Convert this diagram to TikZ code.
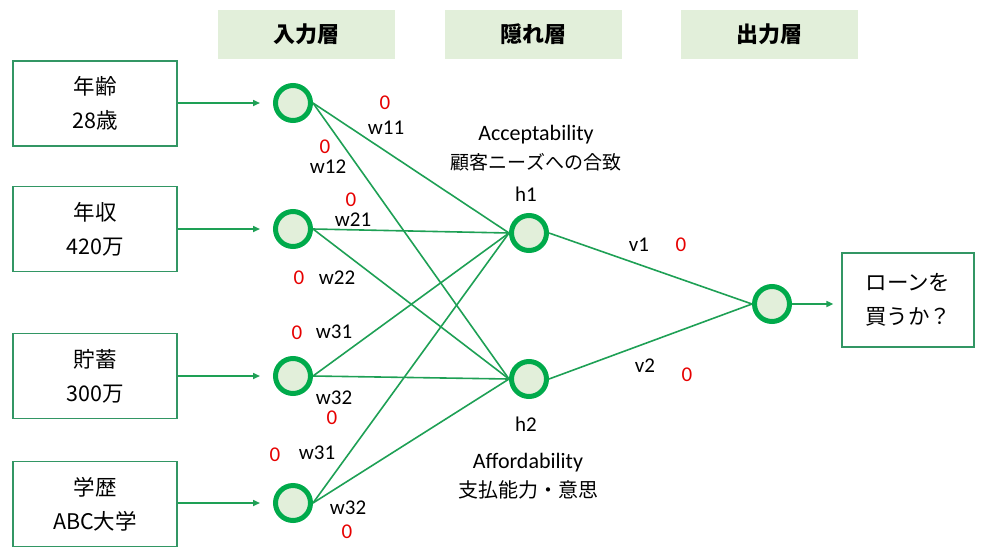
\documentclass[tikz,border=0pt]{standalone}
\usepackage{fontspec}
\setmainfont{Noto Sans CJK JP}
\newfontfamily\carlito{Carlito}
\usetikzlibrary{positioning,arrows.meta}
\definecolor{ringgreen}{RGB}{0,170,75}
\definecolor{linkgreen}{RGB}{30,160,85}
\definecolor{boxgreen}{RGB}{50,150,100}
\definecolor{headfill}{RGB}{226,239,218}
\definecolor{weightred}{RGB}{230,0,0}
\tikzset{
  layerhead/.style={fill=headfill, minimum width=177pt, minimum height=49pt, inner sep=0pt, font=\bfseries\fontsize{22}{26}\selectfont},
  feature/.style={draw=boxgreen, line width=1.2pt, minimum width=164pt, minimum height=85pt, inner sep=0pt, align=center, font=\fontsize{21.5}{34}\selectfont},
  neuron/.style={circle, draw=ringgreen, fill=headfill, line width=5pt, minimum size=35pt, inner sep=0pt},
  synapse/.style={draw=linkgreen, line width=1.6pt},
  feed/.style={synapse, -{Triangle[length=7pt,width=6pt]}},
  wlab/.style={inner sep=0pt, font=\carlito\fontsize{21}{24}\selectfont},
  wval/.style={wlab, text=weightred},
  note/.style={inner sep=0pt, font=\fontsize{19}{22}\selectfont}
}

\begin{document}
\begin{tikzpicture}[x=1pt, y=-1pt]
    \useasboundingbox (0,0) rectangle (995,547);

    % Layer headings
    \node[layerhead] (headin) at (306.5,34) {入力層};
    \node[layerhead] (headhid) at (533.5,34) {隠れ層};
    \node[layerhead] (headout) at (769.5,34) {出力層};

    % Input features
    \node[feature] (age) at (95,103.5) {年齢\\28歳};
    \node[feature] (income) at (95,229) {年収\\420万};
    \node[feature] (savings) at (95,376) {貯蓄\\300万};
    \node[feature] (school) at (95,504) {学歴\\ABC大学};

    % Neurons
    \foreach \i/\y in {1/103,2/229,3/376,4/503} {
        \node[neuron] (x\i) at (293,\y) {};
    }
    \node[neuron] (h1) at (529,233) {};
    \node[neuron] (h2) at (529,379) {};
    \node[neuron] (out) at (772,304) {};

    % Output box
    \node[feature, minimum width=132pt, minimum height=94pt] (loan) at (908,300) {ローンを\\買うか？};

    % Feeding arrows
    \foreach \src/\i in {age/1,income/2,savings/3,school/4} {
        \draw[feed, shorten >=13pt] (\src.east |- x\i) -- (x\i.west);
    }
    \draw[feed, shorten >=8pt] (out.east) -- (loan.west |- out);

    % Connections
    \foreach \i in {1,...,4} {
        \foreach \j in {1,2} {
            \draw[synapse] (x\i.east) -- (h\j.west);
        }
    }
    \draw[synapse] (h1.east) -- (out.west);
    \draw[synapse] (h2.east) -- (out.west);

    % Weight names
    \foreach \x/\y/\t [count=\k] in {386/128/w11, 328/167/w12, 353/220/w21, 337/278/w22,
            334/332/w31, 334/398/w32, 317/453/w31, 348/508/w32, 639/245/v1, 645/366/v2,
            526/194/h1, 526/424/h2} {
        \node[wlab] (name\k) at (\x,\y) {\t};
    }

    % Weight values
    \foreach \x/\y [count=\k] in {385/103, 325/147, 351/200, 299/278, 297/333,
            332/418, 275/455, 347/532, 681/245, 687/375} {
        \node[wval] (val\k) at (\x,\y) {0};
    }

    % Hidden unit meanings
    \node[wlab, font=\carlito\fontsize{22}{24}\selectfont] (accept) at (536,135) {Acceptability};
    \node[note] (needs) at (536,162) {顧客ニーズへの合致};
    \node[wlab, font=\carlito\fontsize{22}{24}\selectfont] (afford) at (528,463) {Affordability};
    \node[note, font=\fontsize{20}{24}\selectfont] (pay) at (528,490) {支払能力・意思};
\end{tikzpicture}
\end{document}
